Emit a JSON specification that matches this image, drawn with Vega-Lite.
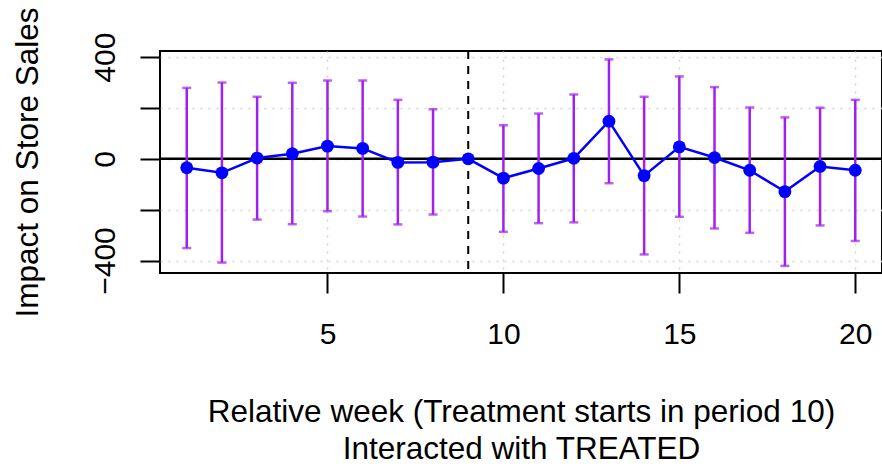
{
  "$schema": "https://vega.github.io/schema/vega-lite/v6.json",
  "autosize": {"type": "none"},
  "padding": {"left": 160, "top": 51, "right": 0, "bottom": 194},
  "width": 722,
  "height": 222,
  "background": "white",
  "config": {
    "view": {"stroke": "black", "strokeWidth": 2},
    "font": "Liberation Sans",
    "axis": {
      "domain": false,
      "tickSize": 20, "tickWidth": 2, "tickColor": "black",
      "labelFontSize": 30, "labelColor": "black", "labelFont": "Liberation Sans",
      "grid": true, "gridColor": "#d3d3d3", "gridDash": [2, 6], "gridWidth": 1.5,
      "titleFont": "Liberation Sans", "titleFontSize": 31.5, "titleFontWeight": "normal", "titleColor": "black"
    },
    "axisX": {"labelPadding": 26, "titleLineHeight": 37, "titlePadding": 47},
    "axisY": {"labelAngle": -90, "labelAlign": "center", "labelBaseline": "bottom", "labelPadding": 20, "titlePadding": 46}
  },
  "data": {"values": [
    {"week": 1, "est": -35, "lo": -351, "hi": 279},
    {"week": 2, "est": -55, "lo": -408, "hi": 300},
    {"week": 3, "est": 3, "lo": -239, "hi": 244},
    {"week": 4, "est": 20, "lo": -257, "hi": 299},
    {"week": 5, "est": 50, "lo": -206, "hi": 308},
    {"week": 6, "est": 41, "lo": -227, "hi": 308},
    {"week": 7, "est": -14, "lo": -258, "hi": 232},
    {"week": 8, "est": -13, "lo": -219, "hi": 195},
    {"week": 9, "est": 0, "lo": null, "hi": null},
    {"week": 10, "est": -76, "lo": -287, "hi": 132},
    {"week": 11, "est": -38, "lo": -253, "hi": 178},
    {"week": 12, "est": 2, "lo": -250, "hi": 253},
    {"week": 13, "est": 148, "lo": -96, "hi": 391},
    {"week": 14, "est": -66, "lo": -376, "hi": 244},
    {"week": 15, "est": 47, "lo": -228, "hi": 324},
    {"week": 16, "est": 5, "lo": -274, "hi": 282},
    {"week": 17, "est": -45, "lo": -291, "hi": 202},
    {"week": 18, "est": -129, "lo": -421, "hi": 163},
    {"week": 19, "est": -30, "lo": -262, "hi": 201},
    {"week": 20, "est": -45, "lo": -323, "hi": 232}
  ]},
  "layer": [
    {
      "data": {"values": [{"ref": 0}]},
      "mark": {"type": "rule", "color": "black", "strokeWidth": 2.5},
      "encoding": {
        "y": {"field": "ref", "type": "quantitative", "title": "Impact on Store Sales", "scale": {"domain": [-449, 424], "nice": false, "zero": false}}
      }
    },
    {
      "data": {"values": [{"start": 9}]},
      "mark": {"type": "rule", "color": "black", "strokeWidth": 2, "strokeDash": [8, 7]},
      "encoding": {
        "x": {"field": "start", "type": "quantitative", "title": ["Relative week (Treatment starts in period 10)", "Interacted with TREATED"], "scale": {"domain": [0.24, 20.76], "nice": false, "zero": false}}
      }
    },
    {
      "mark": {"type": "rule", "color": "#A020F0", "strokeWidth": 2.5},
      "encoding": {
        "x": {"field": "week", "type": "quantitative", "title": ["Relative week (Treatment starts in period 10)", "Interacted with TREATED"]},
        "y": {"field": "lo", "type": "quantitative", "title": "Impact on Store Sales"},
        "y2": {"field": "hi"}
      }
    },
    {
      "mark": {"type": "tick", "color": "#A020F0", "orient": "horizontal", "size": 9, "thickness": 2.5},
      "encoding": {
        "x": {"field": "week", "type": "quantitative", "title": ["Relative week (Treatment starts in period 10)", "Interacted with TREATED"]},
        "y": {"field": "hi", "type": "quantitative", "title": "Impact on Store Sales"}
      }
    },
    {
      "mark": {"type": "tick", "color": "#A020F0", "orient": "horizontal", "size": 9, "thickness": 2.5},
      "encoding": {
        "x": {"field": "week", "type": "quantitative", "title": ["Relative week (Treatment starts in period 10)", "Interacted with TREATED"]},
        "y": {"field": "lo", "type": "quantitative", "title": "Impact on Store Sales"}
      }
    },
    {
      "mark": {"type": "line", "color": "blue", "strokeWidth": 2.5},
      "encoding": {
        "x": {"field": "week", "type": "quantitative", "title": ["Relative week (Treatment starts in period 10)", "Interacted with TREATED"]},
        "y": {"field": "est", "type": "quantitative", "title": "Impact on Store Sales"}
      }
    },
    {
      "mark": {"type": "point", "filled": true, "color": "blue", "opacity": 1, "size": 165},
      "encoding": {
        "x": {
          "field": "week", "type": "quantitative",
          "title": ["Relative week (Treatment starts in period 10)", "Interacted with TREATED"],
          "scale": {"domain": [0.24, 20.76], "nice": false, "zero": false},
          "axis": {"values": [5, 10, 15, 20]}
        },
        "y": {
          "field": "est", "type": "quantitative",
          "title": "Impact on Store Sales",
          "scale": {"domain": [-449, 424], "nice": false, "zero": false},
          "axis": {
            "values": [-400, -200, 0, 200, 400],
            "labelExpr": "abs(datum.value) == 200 ? '' : datum.label"
          }
        }
      }
    }
  ]
}
